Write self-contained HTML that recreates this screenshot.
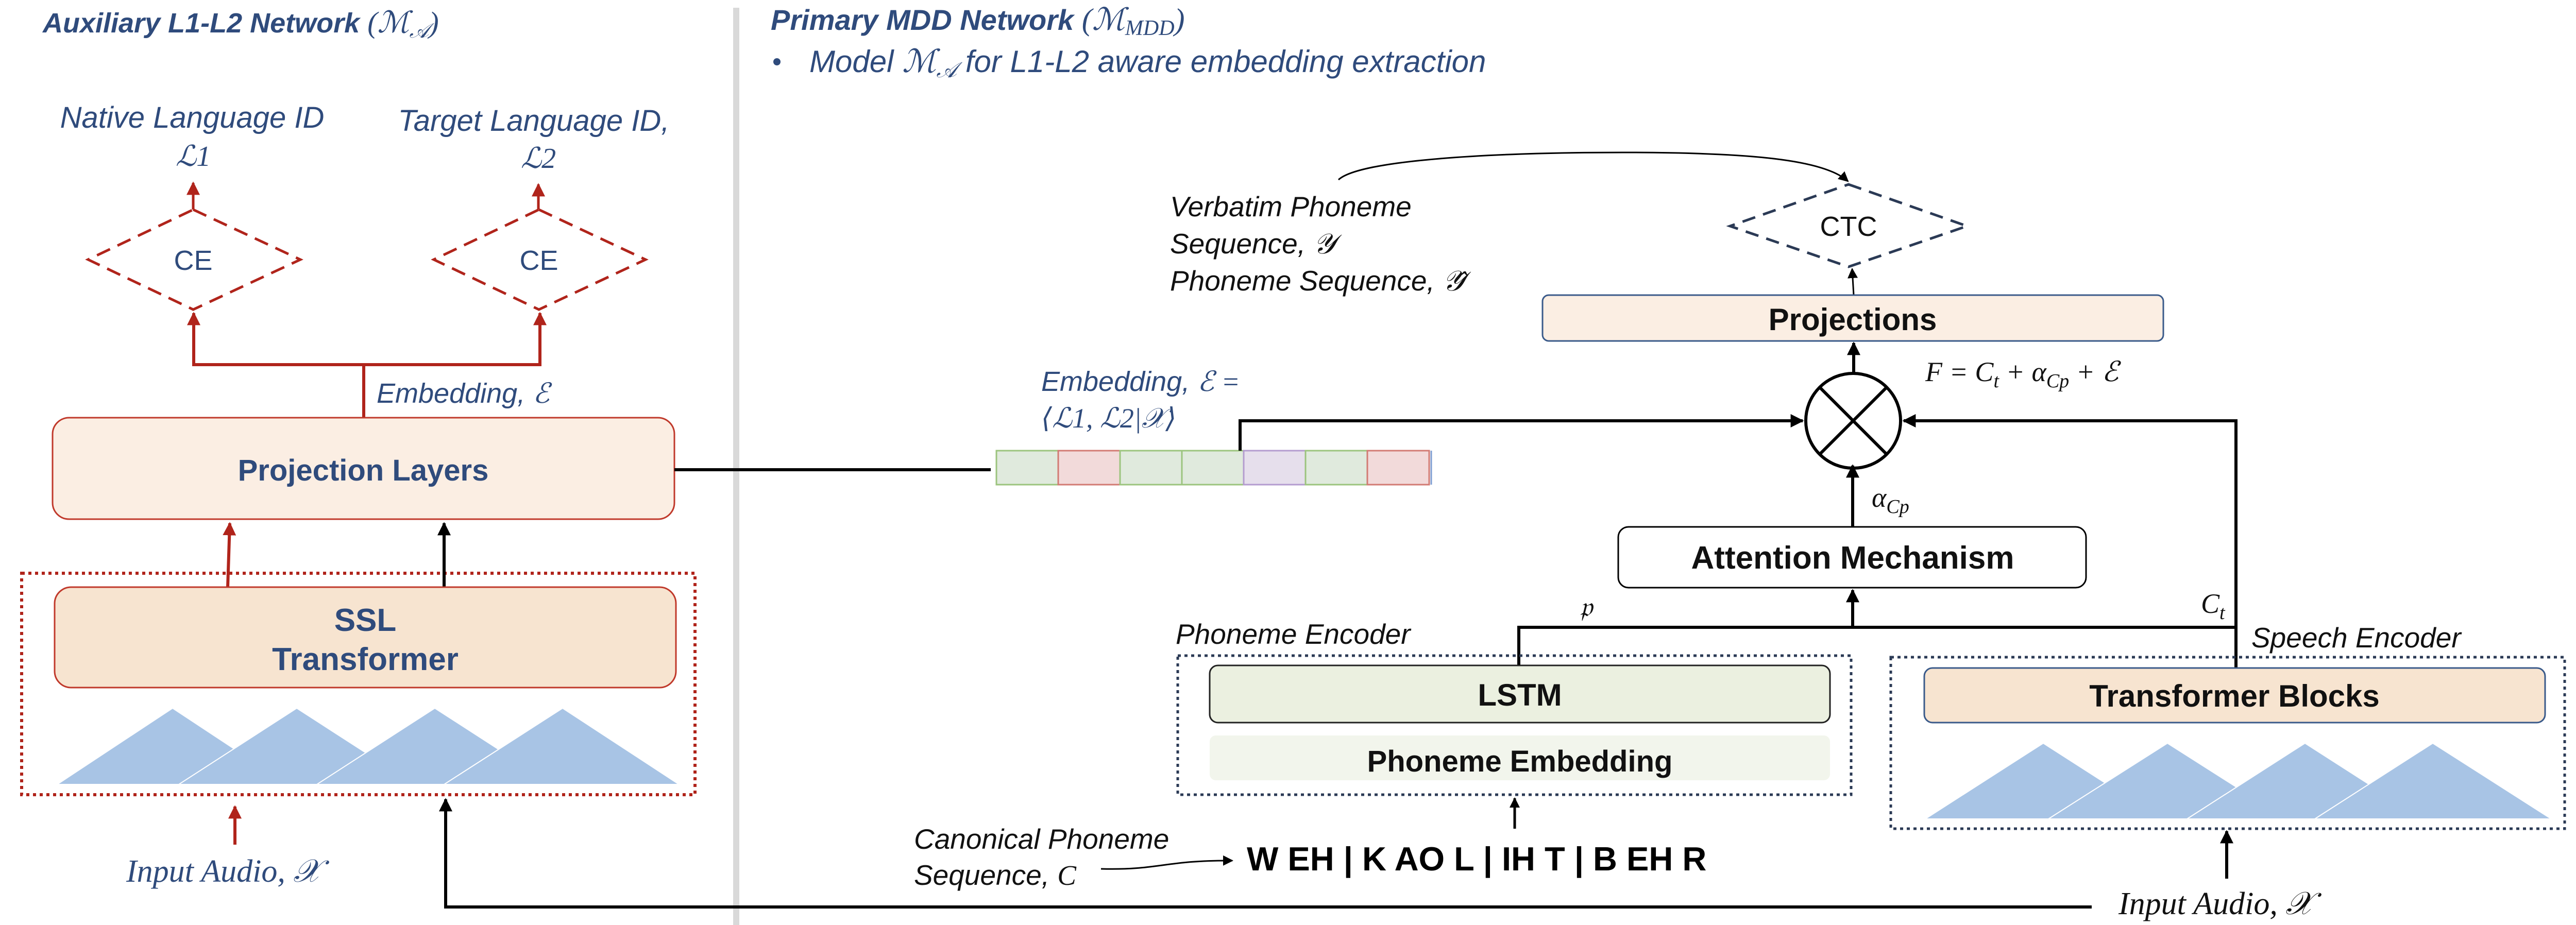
<!DOCTYPE html>
<html><head><meta charset="utf-8">
<style>
html,body{margin:0;padding:0;background:#fff;}
svg{display:block;}
.h{font-family:"Liberation Sans",sans-serif;font-weight:bold;font-style:italic;fill:#2f4b7c;}
.bi{font-family:"Liberation Sans",sans-serif;font-style:italic;fill:#2f4b7c;}
.ki{font-family:"Liberation Sans",sans-serif;font-style:italic;fill:#111;}
.b{font-family:"Liberation Sans",sans-serif;font-weight:bold;}
.m{font-family:"Liberation Serif","DejaVu Serif",serif;font-style:italic;}
</style></head>
<body>
<svg width="5010" height="1796" viewBox="0 0 5010 1796" xmlns="http://www.w3.org/2000/svg">
<defs>
<marker id="a" viewBox="0 0 10 10" refX="9" refY="5" markerWidth="26" markerHeight="26" orient="auto" markerUnits="userSpaceOnUse"><path d="M0,0 L10,5 L0,10 z" fill="#000"/></marker>
<marker id="ar" viewBox="0 0 10 10" refX="9" refY="5" markerWidth="26" markerHeight="26" orient="auto" markerUnits="userSpaceOnUse"><path d="M0,0 L10,5 L0,10 z" fill="#b0241b"/></marker>
<marker id="as" viewBox="0 0 10 10" refX="9" refY="5" markerWidth="20" markerHeight="20" orient="auto" markerUnits="userSpaceOnUse"><path d="M0,0 L10,5 L0,10 z" fill="#000"/></marker>
</defs>

<rect x="1423" y="15" width="12" height="1781" fill="#d9d9d9"/>

<!-- ===== LEFT ===== -->
<text x="83" y="63" class="h" font-size="54">Auxiliary L1-L2 Network <tspan class="m" font-weight="normal" font-size="58">(ℳ<tspan font-size="40" dy="10">𝒜</tspan><tspan dy="-10">)</tspan></tspan></text>

<text x="373" y="248" class="bi" font-size="58" text-anchor="middle">Native Language ID</text>
<text x="375" y="322" class="m" font-size="56" fill="#2f4b7c" text-anchor="middle">ℒ1</text>
<text x="1036" y="254" class="bi" font-size="58" text-anchor="middle">Target Language ID,</text>
<text x="1045" y="326" class="m" font-size="56" fill="#2f4b7c" text-anchor="middle">ℒ2</text>

<line x1="375" y1="407" x2="375" y2="355" stroke="#b0241b" stroke-width="5" marker-end="url(#ar)"/>
<line x1="1045" y1="407" x2="1045" y2="358" stroke="#b0241b" stroke-width="5" marker-end="url(#ar)"/>

<polygon points="375,407 583,504 375,601 171,504" fill="none" stroke="#b0241b" stroke-width="5" stroke-dasharray="28,16"/>
<polygon points="1046,407 1253,504 1046,601 842,504" fill="none" stroke="#b0241b" stroke-width="5" stroke-dasharray="28,16"/>
<text x="375" y="524" font-family="Liberation Sans,sans-serif" font-size="54" fill="#2f4b7c" text-anchor="middle">CE</text>
<text x="1046" y="524" font-family="Liberation Sans,sans-serif" font-size="54" fill="#2f4b7c" text-anchor="middle">CE</text>

<polyline points="706,811 706,708" fill="none" stroke="#b0241b" stroke-width="6"/>
<polyline points="376,615 376,708 1048,708 1048,615" fill="none" stroke="#b0241b" stroke-width="6"/>
<line x1="376" y1="640" x2="376" y2="608" stroke="#b0241b" stroke-width="6" marker-end="url(#ar)"/>
<line x1="1048" y1="640" x2="1048" y2="608" stroke="#b0241b" stroke-width="6" marker-end="url(#ar)"/>
<text x="731" y="782" class="bi" font-size="54">Embedding,  <tspan class="m">ℰ</tspan></text>

<rect x="102" y="811" width="1207" height="197" rx="32" fill="#fbeee3" stroke="#c0392b" stroke-width="3"/>
<text x="705" y="933" class="b" font-size="58" fill="#2f4b7c" text-anchor="middle">Projection Layers</text>

<line x1="1309" y1="912" x2="1923" y2="912" stroke="#000" stroke-width="6"/>

<rect x="42" y="1113" width="1307" height="430" fill="none" stroke="#b0241b" stroke-width="6" stroke-dasharray="6,7"/>
<line x1="442" y1="1140" x2="446" y2="1016" stroke="#b0241b" stroke-width="6" marker-end="url(#ar)"/>
<line x1="862" y1="1140" x2="862" y2="1016" stroke="#000" stroke-width="6" marker-end="url(#a)"/>
<rect x="106" y="1140" width="1206" height="195" rx="32" fill="#f7e4d0" stroke="#c0392b" stroke-width="3"/>
<text x="709" y="1225" class="b" font-size="62" fill="#2f4b7c" text-anchor="middle">SSL</text>
<text x="709" y="1301" class="b" font-size="62" fill="#2f4b7c" text-anchor="middle">Transformer</text>

<g fill="#a8c4e5" stroke="#fff" stroke-width="2">
<polygon points="111,1523 335,1375 559,1523"/>
<polygon points="347,1523 576,1375 805,1523"/>
<polygon points="615,1523 844,1375 1073,1523"/>
<polygon points="862,1523 1092,1375 1318,1523"/>
</g>

<line x1="456" y1="1640" x2="456" y2="1566" stroke="#b0241b" stroke-width="6" marker-end="url(#ar)"/>
<text x="245" y="1712" class="m" font-size="62" fill="#2f4b7c">Input Audio, 𝒳</text>

<polyline points="4060,1761 865,1761 865,1552" fill="none" stroke="#000" stroke-width="6" marker-end="url(#a)"/>

<!-- ===== RIGHT ===== -->
<text x="1496" y="58" class="h" font-size="56">Primary MDD Network <tspan class="m" font-weight="normal" font-size="60">(ℳ<tspan font-size="42" dy="10">MDD</tspan><tspan dy="-10">)</tspan></tspan></text>
<circle cx="1508" cy="120" r="7" fill="#2f4b7c"/>
<text x="1571" y="140" class="bi" font-size="60">Model <tspan class="m" font-size="62">ℳ<tspan font-size="42" dy="10">𝒜</tspan></tspan><tspan dy="-10"> for L1-L2 aware embedding extraction</tspan></text>

<path d="M2598,349 C2640,310 2900,296 3150,296 C3400,296 3540,310 3587,352" fill="none" stroke="#000" stroke-width="3" marker-end="url(#as)"/>
<text x="2271" y="420" class="ki" font-size="55">Verbatim Phoneme</text>
<text x="2271" y="492" class="ki" font-size="55">Sequence, <tspan class="m">𝒴</tspan></text>
<text x="2271" y="564" class="ki" font-size="55">Phoneme Sequence, <tspan class="m">𝒴̂</tspan></text>

<polygon points="3588,358 3818,439 3588,518 3358,439" fill="none" stroke="#2b3a55" stroke-width="5" stroke-dasharray="26,16"/>
<text x="3588" y="458" font-family="Liberation Sans,sans-serif" font-size="54" fill="#111" text-anchor="middle">CTC</text>
<line x1="3598" y1="573" x2="3595" y2="522" stroke="#000" stroke-width="3" marker-end="url(#as)"/>

<rect x="2994" y="573" width="1205" height="89" rx="12" fill="#fbeee3" stroke="#3a5a8a" stroke-width="3"/>
<text x="3596" y="641" class="b" font-size="60" fill="#111" text-anchor="middle">Projections</text>

<text x="3737" y="740" class="m" font-size="54" fill="#111">F = C<tspan font-size="38" dy="12">t</tspan><tspan dy="-12"> + α</tspan><tspan font-size="38" dy="12">Cp</tspan><tspan dy="-12"> + ℰ</tspan></text>

<line x1="3598" y1="733" x2="3598" y2="666" stroke="#000" stroke-width="6" marker-end="url(#a)"/>
<circle cx="3597" cy="817" r="92" fill="#fff" stroke="#000" stroke-width="6"/>
<line x1="3532" y1="752" x2="3662" y2="882" stroke="#000" stroke-width="6"/>
<line x1="3662" y1="752" x2="3532" y2="882" stroke="#000" stroke-width="6"/>

<text x="2021" y="759" class="bi" font-size="54">Embedding,  <tspan class="m">ℰ =</tspan></text>
<text x="2021" y="830" class="m" font-size="54" fill="#2f4b7c">⟨ℒ1, ℒ2|𝒳⟩</text>

<g stroke-width="3">
<rect x="1934" y="875" width="120" height="66" fill="#e0eadd" stroke="#9cc47e"/>
<rect x="2054" y="875" width="120" height="66" fill="#f2dada" stroke="#d27b74"/>
<rect x="2174" y="875" width="120" height="66" fill="#e0eadd" stroke="#9cc47e"/>
<rect x="2294" y="875" width="120" height="66" fill="#e0eadd" stroke="#9cc47e"/>
<rect x="2414" y="875" width="120" height="66" fill="#e6dfec" stroke="#b49ccf"/>
<rect x="2534" y="875" width="120" height="66" fill="#e0eadd" stroke="#9cc47e"/>
<rect x="2654" y="875" width="120" height="66" fill="#f2dada" stroke="#d27b74"/>
<line x1="2778" y1="875" x2="2778" y2="941" stroke="#7f9fd3"/>
</g>

<polyline points="2407,875 2407,817 3499,817" fill="none" stroke="#000" stroke-width="6" marker-end="url(#a)"/>
<polyline points="4340,1297 4340,817 3695,817" fill="none" stroke="#000" stroke-width="6" marker-end="url(#a)"/>

<line x1="3596" y1="1023" x2="3596" y2="904" stroke="#000" stroke-width="6" marker-end="url(#a)"/>
<text x="3633" y="984" class="m" font-size="54" fill="#111">α<tspan font-size="38" dy="12">Cp</tspan></text>

<rect x="3141" y="1023" width="908" height="118" rx="20" fill="#fff" stroke="#000" stroke-width="3"/>
<text x="3596" y="1104" class="b" font-size="62" fill="#111" text-anchor="middle">Attention Mechanism</text>

<polyline points="2948,1292 2948,1218 4340,1218" fill="none" stroke="#000" stroke-width="6"/>
<line x1="3596" y1="1218" x2="3596" y2="1146" stroke="#000" stroke-width="6" marker-end="url(#a)"/>
<text x="3066" y="1197" class="m" font-size="54" fill="#111" font-style="normal">𝔭</text>
<text x="4272" y="1190" class="m" font-size="54" fill="#111">C<tspan font-size="38" dy="12">t</tspan></text>

<text x="2282" y="1250" class="ki" font-size="55">Phoneme Encoder</text>
<rect x="2286" y="1273" width="1307" height="270" fill="none" stroke="#2b3a55" stroke-width="5" stroke-dasharray="6,7"/>
<rect x="2348" y="1292" width="1204" height="111" rx="16" fill="#ebf0e0" stroke="#222" stroke-width="3"/>
<text x="2950" y="1370" class="b" font-size="60" fill="#111" text-anchor="middle">LSTM</text>
<rect x="2348" y="1428" width="1204" height="87" rx="12" fill="#f2f5ec"/>
<text x="2950" y="1498" class="b" font-size="58" fill="#111" text-anchor="middle">Phoneme Embedding</text>

<line x1="2940" y1="1609" x2="2940" y2="1550" stroke="#000" stroke-width="5" marker-end="url(#as)"/>

<text x="1774" y="1648" class="ki" font-size="55">Canonical Phoneme</text>
<text x="1774" y="1718" class="ki" font-size="55">Sequence, <tspan class="m">C</tspan></text>
<path d="M2137,1687 C2250,1690 2260,1670 2392,1671" fill="none" stroke="#000" stroke-width="3" marker-end="url(#as)"/>
<text x="2420" y="1690" font-family="Liberation Sans,sans-serif" font-weight="bold" font-size="65" fill="#000">W EH | K AO L | IH T | B EH R</text>

<text x="4370" y="1257" class="ki" font-size="55">Speech Encoder</text>
<rect x="3670" y="1276" width="1308" height="333" fill="none" stroke="#2b3a55" stroke-width="5" stroke-dasharray="6,7"/>
<rect x="3735" y="1297" width="1205" height="106" rx="16" fill="#f7e4d0" stroke="#3a5a8a" stroke-width="3"/>
<text x="4337" y="1372" class="b" font-size="60" fill="#111" text-anchor="middle">Transformer Blocks</text>
<g fill="#a8c4e5" stroke="#fff" stroke-width="2">
<polygon points="3737,1590 3966,1443 4195,1590"/>
<polygon points="3976,1590 4207,1443 4438,1590"/>
<polygon points="4245,1590 4474,1443 4703,1590"/>
<polygon points="4493,1590 4722,1443 4952,1590"/>
</g>
<line x1="4322" y1="1706" x2="4322" y2="1614" stroke="#000" stroke-width="6" marker-end="url(#a)"/>
<text x="4112" y="1775" class="m" font-size="62" fill="#111">Input Audio, 𝒳</text>
</svg>
</body></html>
